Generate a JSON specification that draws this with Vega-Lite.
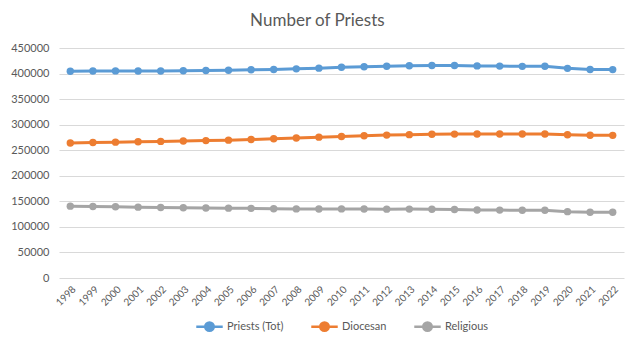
{
  "$schema": "https://vega.github.io/schema/vega-lite/v6.json",
  "width": 565,
  "height": 230,
  "autosize": {"type": "none"},
  "padding": {"left": 59, "top": 48, "right": 16, "bottom": 74},
  "background": "white",
  "title": {"text": "Number of Priests", "fontSize": 17, "font": "Lato", "fontWeight": "normal", "color": "#595959", "anchor": "middle", "frame": "bounds", "offset": 12},
  "config": {
    "view": {"stroke": null},
    "font": "Lato",
    "legend": {"layout": {"bottom": {"anchor": "middle"}}}
  },
  "datasets": {
    "d": [
      {"year":"1998","series":"Priests (Tot)","value":404600},{"year":"1999","series":"Priests (Tot)","value":405000},{"year":"2000","series":"Priests (Tot)","value":405200},{"year":"2001","series":"Priests (Tot)","value":405100},{"year":"2002","series":"Priests (Tot)","value":405100},{"year":"2003","series":"Priests (Tot)","value":405400},{"year":"2004","series":"Priests (Tot)","value":405900},{"year":"2005","series":"Priests (Tot)","value":406400},{"year":"2006","series":"Priests (Tot)","value":407300},{"year":"2007","series":"Priests (Tot)","value":408000},{"year":"2008","series":"Priests (Tot)","value":409200},{"year":"2009","series":"Priests (Tot)","value":410600},{"year":"2010","series":"Priests (Tot)","value":412200},{"year":"2011","series":"Priests (Tot)","value":413400},{"year":"2012","series":"Priests (Tot)","value":414300},{"year":"2013","series":"Priests (Tot)","value":415300},{"year":"2014","series":"Priests (Tot)","value":415800},{"year":"2015","series":"Priests (Tot)","value":415700},{"year":"2016","series":"Priests (Tot)","value":415000},{"year":"2017","series":"Priests (Tot)","value":414600},{"year":"2018","series":"Priests (Tot)","value":414100},{"year":"2019","series":"Priests (Tot)","value":414300},{"year":"2020","series":"Priests (Tot)","value":410200},{"year":"2021","series":"Priests (Tot)","value":407900},{"year":"2022","series":"Priests (Tot)","value":407700},
      {"year":"1998","series":"Diocesan","value":264000},{"year":"1999","series":"Diocesan","value":265000},{"year":"2000","series":"Diocesan","value":265800},{"year":"2001","series":"Diocesan","value":266500},{"year":"2002","series":"Diocesan","value":267300},{"year":"2003","series":"Diocesan","value":268000},{"year":"2004","series":"Diocesan","value":268800},{"year":"2005","series":"Diocesan","value":269700},{"year":"2006","series":"Diocesan","value":271000},{"year":"2007","series":"Diocesan","value":272400},{"year":"2008","series":"Diocesan","value":274000},{"year":"2009","series":"Diocesan","value":275600},{"year":"2010","series":"Diocesan","value":277000},{"year":"2011","series":"Diocesan","value":278300},{"year":"2012","series":"Diocesan","value":279600},{"year":"2013","series":"Diocesan","value":280500},{"year":"2014","series":"Diocesan","value":281300},{"year":"2015","series":"Diocesan","value":281500},{"year":"2016","series":"Diocesan","value":281800},{"year":"2017","series":"Diocesan","value":281800},{"year":"2018","series":"Diocesan","value":281700},{"year":"2019","series":"Diocesan","value":281800},{"year":"2020","series":"Diocesan","value":280400},{"year":"2021","series":"Diocesan","value":279300},{"year":"2022","series":"Diocesan","value":279100},
      {"year":"1998","series":"Religious","value":140600},{"year":"1999","series":"Religious","value":140000},{"year":"2000","series":"Religious","value":139400},{"year":"2001","series":"Religious","value":138600},{"year":"2002","series":"Religious","value":137800},{"year":"2003","series":"Religious","value":137400},{"year":"2004","series":"Religious","value":137100},{"year":"2005","series":"Religious","value":136700},{"year":"2006","series":"Religious","value":136300},{"year":"2007","series":"Religious","value":135600},{"year":"2008","series":"Religious","value":135200},{"year":"2009","series":"Religious","value":135000},{"year":"2010","series":"Religious","value":135200},{"year":"2011","series":"Religious","value":135100},{"year":"2012","series":"Religious","value":134700},{"year":"2013","series":"Religious","value":134800},{"year":"2014","series":"Religious","value":134500},{"year":"2015","series":"Religious","value":134100},{"year":"2016","series":"Religious","value":133200},{"year":"2017","series":"Religious","value":132800},{"year":"2018","series":"Religious","value":132400},{"year":"2019","series":"Religious","value":132500},{"year":"2020","series":"Religious","value":129800},{"year":"2021","series":"Religious","value":128600},{"year":"2022","series":"Religious","value":128600}
    ]
  },
  "data": {"name": "d"},
  "encoding": {
    "x": {"field": "year", "type": "ordinal", "scale": {"type": "point", "padding": 0.5}, "title": null,
      "axis": {"labelAngle": -45, "labelFontSize": 10, "labelColor": "#595959", "ticks": false, "domain": false, "grid": false, "labelPadding": 6}},
    "y": {"field": "value", "type": "quantitative", "scale": {"domain": [0, 450000]}, "title": null,
      "axis": {"values": [0,50000,100000,150000,200000,250000,300000,350000,400000,450000], "format": "d", "labelFontSize": 11, "labelColor": "#595959", "ticks": false, "domain": false, "gridColor": "#D9D9D9", "gridWidth": 1, "labelPadding": 10}},
    "color": {"field": "series", "type": "nominal", "title": null,
      "scale": {"domain": ["Priests (Tot)", "Diocesan", "Religious"], "range": ["#5B9BD5", "#ED7D31", "#A5A5A5"]},
      "legend": {"orient": "bottom", "direction": "horizontal", "labelFontSize": 11, "labelColor": "#595959", "symbolType": "M-1,0L1,0M-0.32,0A0.32,0.32 0 1,1 0.32,0A0.32,0.32 0 1,1 -0.32,0Z", "symbolSize": 700, "symbolStrokeWidth": 2.5, "columnPadding": 22, "labelOffset": 3, "offset": 4}}
  },
  "layer": [
    {"mark": {"type": "line", "strokeWidth": 3}},
    {"mark": {"type": "point", "filled": true, "size": 55, "opacity": 1}}
  ]
}
